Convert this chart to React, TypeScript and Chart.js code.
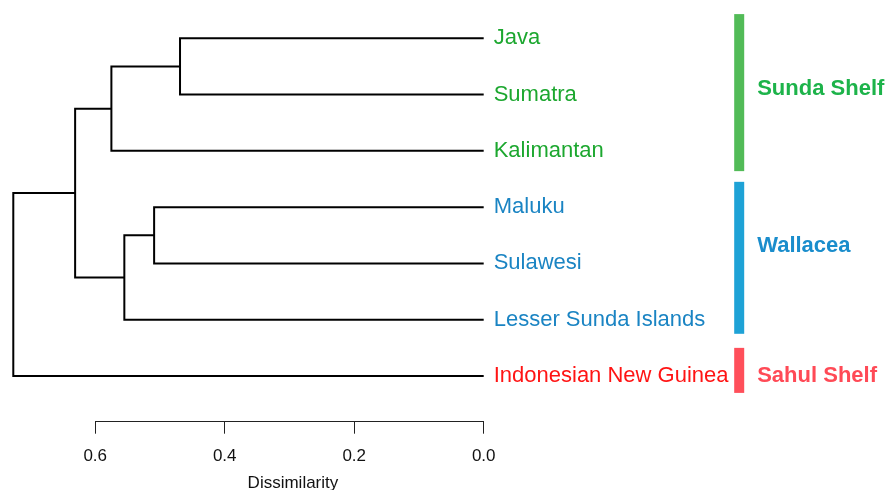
import { useEffect, useRef } from "react";
import { Chart, registerables } from "chart.js";

Chart.register(...registerables);

// ---- data ----
const leafNames = [
  "Java",
  "Sumatra",
  "Kalimantan",
  "Maluku",
  "Sulawesi",
  "Lesser Sunda Islands",
  "Indonesian New Guinea",
];
const leafGroup = [0, 0, 0, 1, 1, 1, 2];
// hclust-style merges: negative = leaf index (1-based), positive = earlier merge (1-based)
const mergeLeft = [-1, -4, 1, 2, 3, 5];
const mergeRight = [-2, -5, -3, -6, 4, -7];
const mergeHeight = [0.469, 0.509, 0.575, 0.555, 0.631, 0.7265];
const xTicks = [0.6, 0.4, 0.2, 0.0];
const groupNames = ["Sunda Shelf", "Wallacea", "Sahul Shelf"];
const groupFrom = [0.57, 3.55, 6.5];
const groupTo = [3.36, 6.25, 7.3];
const groupLabelAt = [1.87, 4.66, 6.97];
const axisTitle = "Dissimilarity";

// ---- styles ----
const FONT = '"Liberation Sans", Arial, Helvetica, sans-serif';
const leafColors = ["#1ca72f", "#1a84c3", "#ff1414"];
const groupTextColors = ["#1db34a", "#1a8dcc", "#ff4a56"];
const groupBarColors = ["#52bb57", "#1ea2d6", "#ff4f5a"];

function buildSegments() {
  const nodeY: number[] = [];
  const segs: { x: number; y: number }[][] = [];
  const pos = (id: number) =>
    id < 0 ? { x: 0, y: -id } : { x: mergeHeight[id - 1], y: nodeY[id - 1] };
  mergeLeft.forEach((l, i) => {
    const a = pos(l);
    const b = pos(mergeRight[i]);
    const h = mergeHeight[i];
    nodeY[i] = (a.y + b.y) / 2;
    segs.push([
      { x: a.x, y: a.y },
      { x: h, y: a.y },
      { x: h, y: b.y },
      { x: b.x, y: b.y },
    ]);
  });
  return segs;
}

const overlay = {
  id: "dendroOverlay",
  afterDraw(chart: any) {
    const { ctx } = chart;
    const xs = chart.scales.x;
    const ys = chart.scales.y;
    ctx.save();
    // axis line from first to last tick
    ctx.strokeStyle = "#222";
    ctx.lineWidth = 1;
    ctx.beginPath();
    const ay = Math.round(xs.top) + 0.5;
    ctx.moveTo(xs.getPixelForValue(xTicks[0]), ay);
    ctx.lineTo(xs.getPixelForValue(xTicks[xTicks.length - 1]), ay);
    ctx.stroke();

    // axis title
    ctx.fillStyle = "#111";
    ctx.font = `17px ${FONT}`;
    ctx.textAlign = "center";
    ctx.textBaseline = "alphabetic";
    const mid =
      (xs.getPixelForValue(xTicks[0]) + xs.getPixelForValue(xTicks[xTicks.length - 1])) / 2 + 3.5;
    ctx.fillText(axisTitle, mid, 487.5);

    // leaf labels
    ctx.font = `22px ${FONT}`;
    ctx.textAlign = "left";
    ctx.textBaseline = "alphabetic";
    const lx = xs.getPixelForValue(0) + 10;
    leafNames.forEach((name, i) => {
      ctx.fillStyle = leafColors[leafGroup[i]];
      ctx.fillText(name, lx, ys.getPixelForValue(i + 1) + 6);
    });

    // group bars + labels
    const bx = xs.getPixelForValue(0) + 250.5;
    groupNames.forEach((g, i) => {
      const y1 = ys.getPixelForValue(groupFrom[i]);
      const y2 = ys.getPixelForValue(groupTo[i]);
      ctx.fillStyle = groupBarColors[i];
      ctx.fillRect(bx, y1, 10, y2 - y1);
      ctx.fillStyle = groupTextColors[i];
      ctx.font = `bold 22px ${FONT}`;
      ctx.fillText(g, bx + 23, ys.getPixelForValue(groupLabelAt[i]) + 8);
    });
    ctx.restore();
  },
};

export default function App() {
  const ref = useRef<HTMLCanvasElement | null>(null);
  useEffect(() => {
    document.body.style.margin = "0";
    if (!ref.current) return;
    const segs = buildSegments();
    const chart = new Chart(ref.current, {
      type: "scatter",
      data: {
        datasets: segs.map((s) => ({
          data: s,
          showLine: true,
          borderColor: "#000",
          borderWidth: 2,
          borderCapStyle: "butt",
          borderJoinStyle: "miter",
          pointRadius: 0,
          pointHoverRadius: 0,
          fill: false,
          tension: 0,
          clip: false as any,
        })),
      },
      options: {
        animation: false,
        responsive: false,
        events: [],
        layout: { padding: { left: 4.55, right: 403.3, top: 10.16, bottom: 0 } },
        plugins: {
          legend: { display: false },
          tooltip: { enabled: false },
          title: { display: false },
        },
        scales: {
          x: {
            type: "linear",
            reverse: true,
            min: 0,
            max: 0.74,
            afterBuildTicks: (scale: any) => {
              scale.ticks = xTicks.map((v) => ({ value: v }));
            },
            afterFit: (scale: any) => {
              scale.height = 69.3;
            },
            ticks: {
              padding: 12,
              color: "#111",
              font: { family: FONT, size: 17 },
              maxRotation: 0,
              autoSkip: false,
              callback: (v: any) => Number(v).toFixed(1),
            },
            grid: {
              display: true,
              drawOnChartArea: false,
              drawTicks: true,
              tickLength: 13,
              color: "#222",
              lineWidth: 1,
            },
            border: { display: false },
          },
          y: {
            type: "linear",
            display: false,
            reverse: true,
            min: 0.5,
            max: 7.794,
          },
        },
      },
      plugins: [overlay],
    } as any);
    return () => chart.destroy();
  }, []);
  return (
    <div style={{ width: 887, height: 490 }}>
      <canvas ref={ref} width={887} height={490} style={{ display: "block" }} />
    </div>
  );
}
